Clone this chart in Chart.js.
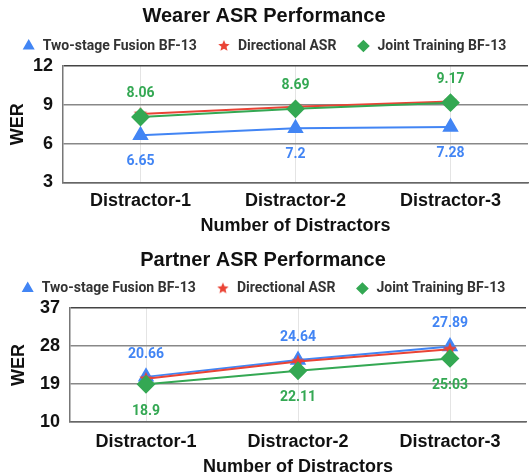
<!DOCTYPE html>
<html>
<head>
<meta charset="utf-8">
<script src="https://cdn.jsdelivr.net/npm/chart.js@4"></script>
<style>
  html, body { margin: 0; padding: 0; background: #fff; overflow: hidden; }
  .box { position: relative; width: 532px; }
  #wearer-box { height: 240px; }
  #partner-box { height: 234px; }
</style>
</head>
<body>
<div class="box" id="wearer-box"><canvas id="wearerChart"></canvas></div>
<div class="box" id="partner-box"><canvas id="partnerChart"></canvas></div>
<script>
const categories = ['Distractor-1', 'Distractor-2', 'Distractor-3'];
const seriesNames = ['Two-stage Fusion BF-13', 'Directional ASR', 'Joint Training BF-13'];

const wearerTwoStage = [6.65, 7.2, 7.28];
const wearerDirectional = [8.3, 8.85, 9.25];
const wearerJoint = [8.06, 8.69, 9.17];
const wearerTicks = [3, 6, 9, 12];

const partnerTwoStage = [20.66, 24.64, 27.89];
const partnerDirectional = [20.2, 24.3, 27.2];
const partnerJoint = [18.9, 22.11, 25.03];
const partnerJointText = ['18.9', '22.11', '25:03'];
const partnerTicks = [10, 19, 28, 37];

const BLUE = '#4285f4';
const RED = '#ea4335';
const GREEN = '#34a853';
const AXIS_FONT = 'Liberation Sans, Arial, sans-serif';

function starImage(r, color) {
  const c = document.createElement('canvas');
  const s = Math.ceil(r * 2) + 2;
  c.width = s;
  c.height = s;
  const g = c.getContext('2d');
  g.fillStyle = color;
  g.beginPath();
  for (let k = 0; k < 10; k++) {
    const rr = k % 2 ? r * 0.45 : r;
    const a = -Math.PI / 2 + k * Math.PI / 5;
    g.lineTo(s / 2 + rr * Math.cos(a), s / 2 + rr * Math.sin(a));
  }
  g.closePath();
  g.fill();
  return c;
}

const pointStar = starImage(7, RED);
const legendStar = starImage(6, RED);

// value labels next to the points
const pointLabels = {
  id: 'pointLabels',
  afterDatasetsDraw(chart) {
    const ctx = chart.ctx;
    chart.data.datasets.forEach((ds, i) => {
      if (!ds.labelText) return;
      const meta = chart.getDatasetMeta(i);
      ctx.save();
      ctx.font = 'bold 14px Roboto';
      ctx.fillStyle = ds.borderColor;
      ctx.textAlign = 'center';
      ctx.textBaseline = 'middle';
      meta.data.forEach((pt, j) => {
        ctx.fillText(ds.labelText[j], pt.x, pt.y + ds.labelShift);
      });
      ctx.restore();
    });
  }
};

// fixed legend block height so the plot starts where it should
const legendHeight = {
  id: 'legendHeight',
  afterInit(chart, args, opts) {
    const fit = chart.legend.fit;
    chart.legend.fit = function () {
      fit.call(this);
      this.height = opts.h;
    };
  }
};

function makeChart(id, cfg) {
  const yMin = cfg.ticks[0];
  const yMax = cfg.ticks[cfg.ticks.length - 1];
  return new Chart(document.getElementById(id), {
    type: 'line',
    data: {
      labels: categories,
      datasets: [
        {
          label: seriesNames[0],
          data: cfg.twoStage,
          borderColor: BLUE,
          backgroundColor: BLUE,
          pointStyle: 'triangle',
          pointRadius: 7.5,
          borderWidth: 2,
          order: 2,
          labelText: cfg.twoStageText,
          labelShift: cfg.twoStageShift,
        },
        {
          label: seriesNames[1],
          data: cfg.directional,
          borderColor: RED,
          backgroundColor: RED,
          pointStyle: pointStar,
          borderWidth: 2,
          order: 1,
        },
        {
          label: seriesNames[2],
          data: cfg.joint,
          borderColor: GREEN,
          backgroundColor: GREEN,
          pointStyle: 'rectRot',
          pointRadius: 8,
          borderWidth: 2,
          order: 0,
          labelText: cfg.jointText,
          labelShift: cfg.jointShift,
        },
      ],
    },
    options: {
      responsive: true,
      maintainAspectRatio: false,
      animation: false,
      layout: { padding: cfg.layoutPad, autoPadding: false },
      plugins: {
        title: {
          display: true,
          text: cfg.title,
          color: '#111',
          font: { family: AXIS_FONT, size: 20, weight: 'bold' },
          padding: cfg.titlePad,
        },
        legend: {
          position: 'top',
          labels: {
            usePointStyle: true,
            boxHeight: 7,
            padding: 20,
            color: '#333',
            font: { family: 'Roboto', size: 14, weight: 'bold' },
            sort: (a, b) => a.datasetIndex - b.datasetIndex,
            generateLabels(chart) {
              const items = Chart.defaults.plugins.legend.labels.generateLabels(chart);
              items.forEach((it) => {
                if (it.datasetIndex === 1) it.pointStyle = legendStar;
              });
              return items;
            },
          },
        },
        legendHeight: { h: cfg.legendH },
        tooltip: { enabled: false },
      },
      scales: {
        x: {
          offset: true,
          afterFit(scale) {
            scale.paddingLeft = 0;
            scale.paddingRight = 0;
          },
          grid: { display: true, offset: false, color: '#e4e4e4', lineWidth: 1, drawTicks: false },
          border: { display: true, color: '#666', width: 1.5 },
          ticks: {
            color: '#111',
            padding: cfg.xTickPad,
            font: { family: AXIS_FONT, size: 18, weight: 'bold' },
          },
          title: {
            display: true,
            text: 'Number of Distractors',
            color: '#111',
            font: { family: AXIS_FONT, size: 18, weight: 'bold' },
            padding: cfg.xTitlePad,
          },
        },
        y: {
          min: yMin,
          max: yMax,
          afterFit(scale) { scale.width = cfg.yWidth; },
          grid: {
            drawTicks: false,
            lineWidth: 1.5,
            color: (c) => (c.tick && c.tick.value === yMax ? '#444' : '#888'),
          },
          border: { display: true, color: '#777', width: 1.5 },
          ticks: {
            stepSize: cfg.ticks[1] - cfg.ticks[0],
            color: '#111',
            padding: 10,
            font: { family: AXIS_FONT, size: 18, weight: 'bold' },
          },
          title: {
            display: true,
            text: 'WER',
            color: '#111',
            font: { family: AXIS_FONT, size: 18, weight: 'bold' },
            padding: cfg.yTitlePad,
          },
        },
      },
    },
    plugins: [pointLabels, legendHeight],
  });
}

makeChart('wearerChart', {
  title: 'Wearer ASR Performance',
  twoStage: wearerTwoStage,
  directional: wearerDirectional,
  joint: wearerJoint,
  ticks: wearerTicks,
  twoStageText: wearerTwoStage.map(String),
  twoStageShift: 26,
  jointText: wearerJoint.map(String),
  jointShift: -23.5,
  layoutPad: { left: 0, right: 4, top: 1.5, bottom: 2.7 },
  titlePad: { top: 3, bottom: -9.5 },
  legendH: 47,
  xTickPad: 8,
  xTitlePad: { top: -4.4, bottom: 0 },
  yWidth: 63,
  yTitlePad: { top: 7.5, bottom: 0 },
});

makeChart('partnerChart', {
  title: 'Partner ASR Performance',
  twoStage: partnerTwoStage,
  directional: partnerDirectional,
  joint: partnerJoint,
  ticks: partnerTicks,
  twoStageText: partnerTwoStage.map(String),
  twoStageShift: -22.5,
  jointText: partnerJointText,
  jointShift: 27,
  layoutPad: { left: 0, right: 6, top: 2, bottom: -2 },
  titlePad: { top: 6, bottom: -10.5 },
  legendH: 46.5,
  xTickPad: 9.2,
  xTitlePad: { top: -5.6, bottom: -1.8 },
  yWidth: 70,
  yTitlePad: { top: 8, bottom: 0 },
});
</script>
</body>
</html>
